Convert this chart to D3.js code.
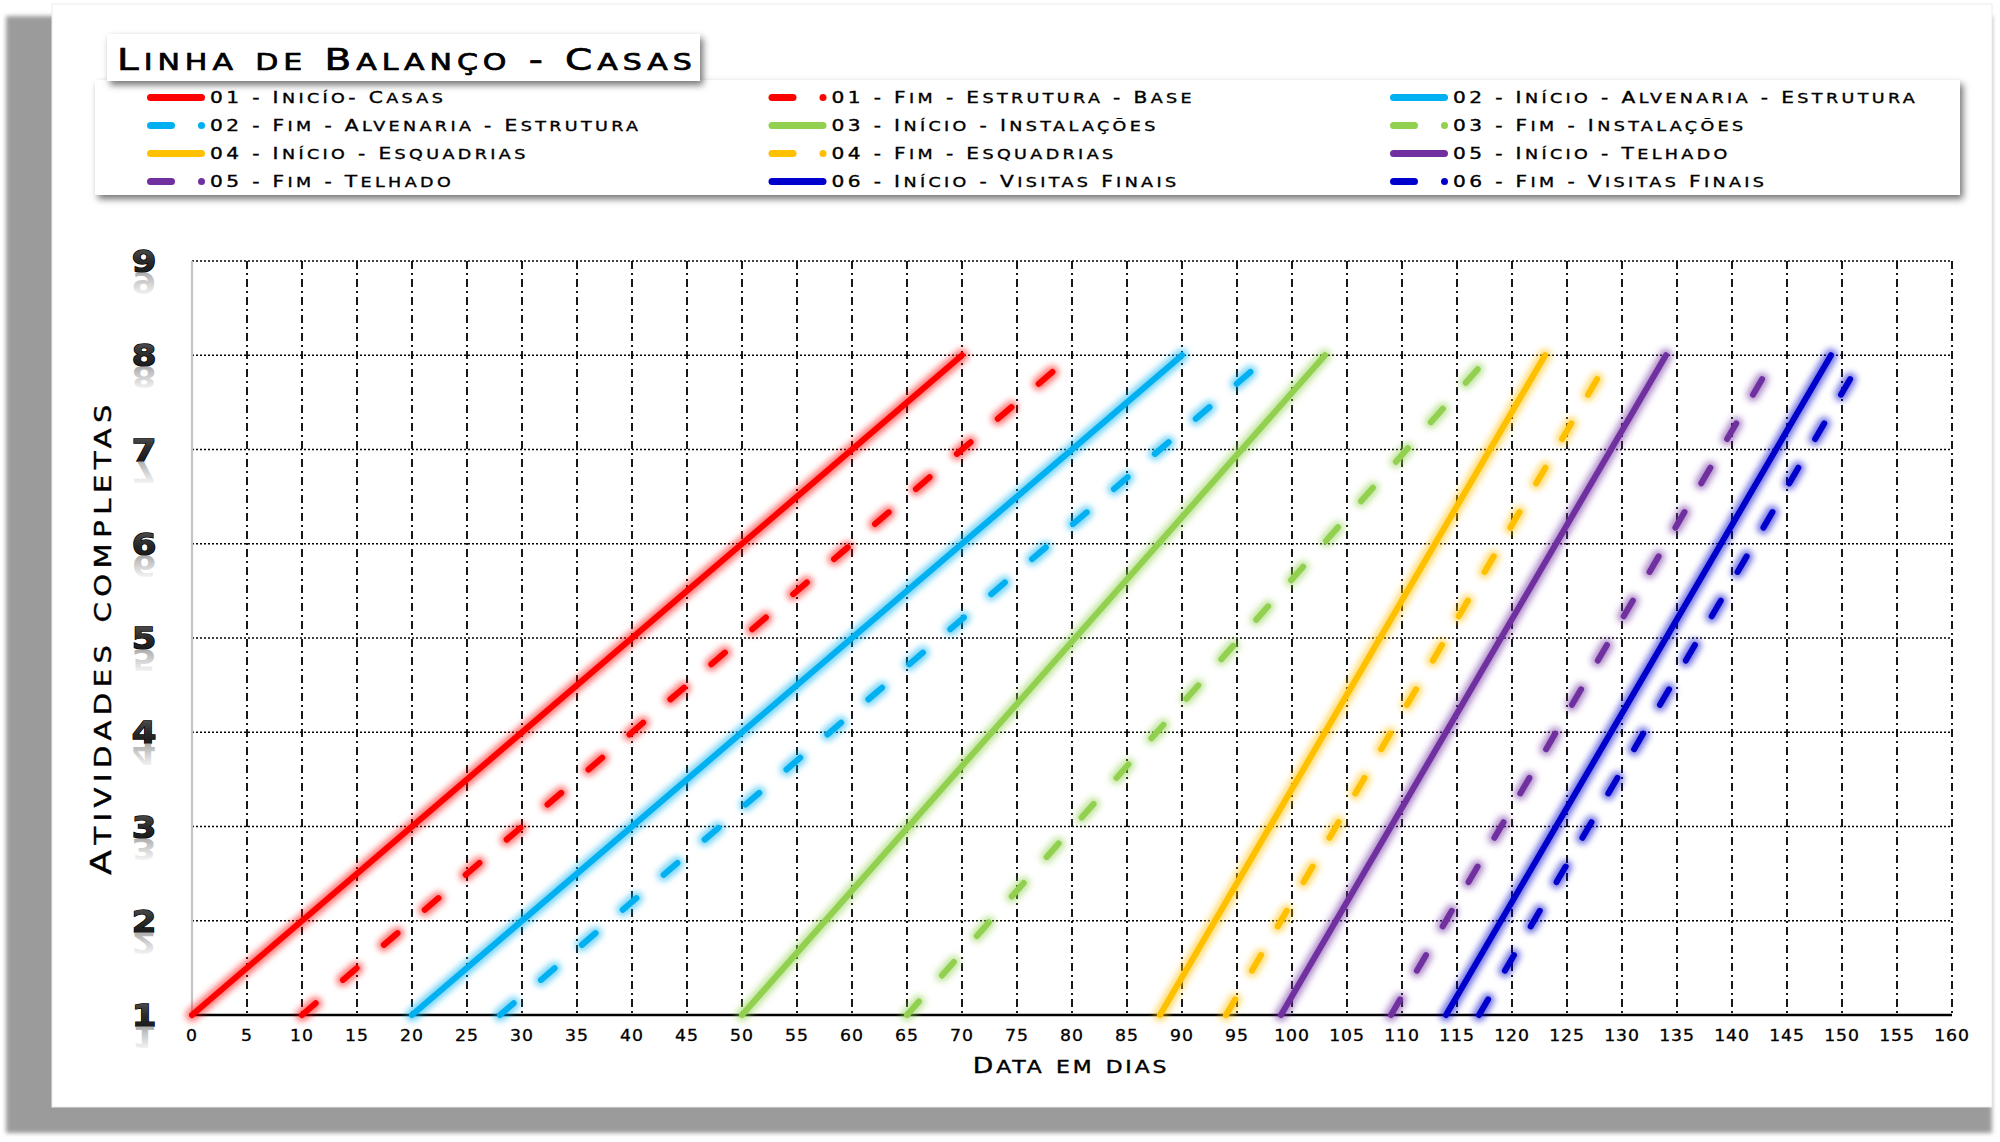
<!DOCTYPE html>
<html><head><meta charset="utf-8">
<script src="https://cdn.jsdelivr.net/npm/d3@7"></script>
<style>
  body{margin:0;background:#fff;}
  svg{display:block;}
  text{font-family:"DejaVu Sans",sans-serif;}
</style>
</head><body>
<svg id="chart" width="2000" height="1142" xmlns:xlink="http://www.w3.org/1999/xlink"></svg>
<script>
// ---------------- DATA ----------------
const chartTitle = "Linha de Balanço - Casas";
const xAxisTitle = "Data em dias";
const yAxisTitle = "Atividades completas";

const seriesLabels = [
  "01 - Inicío- Casas",
  "01 - Fim - Estrutura - Base",
  "02 - Início - Alvenaria - Estrutura",
  "02 - Fim - Alvenaria - Estrutura",
  "03 - Início - Instalações",
  "03 - Fim - Instalações",
  "04 - Início - Esquadrias",
  "04 - Fim - Esquadrias",
  "05 - Início - Telhado",
  "05 - Fim - Telhado",
  "06 - Início - Visitas Finais",
  "06 - Fim - Visitas Finais"
];
const startDay   = [0, 10, 20, 28, 50, 65, 88, 94, 99, 109, 114, 117];
const endDay     = [70, 80, 90, 98, 103, 118, 123, 129, 134, 144, 149, 152];
const startCount = [1, 1, 1, 1, 1, 1, 1, 1, 1, 1, 1, 1];
const endCount   = [8, 8, 8, 8, 8, 8, 8, 8, 8, 8, 8, 8];

const xTickLabels = [0,5,10,15,20,25,30,35,40,45,50,55,60,65,70,75,80,85,90,95,100,105,110,115,120,125,130,135,140,145,150,155,160];
const yTickLabels = [1,2,3,4,5,6,7,8,9];

// ---------------- STYLE ----------------
const palette = ["#FF0000","#FF0000","#00B0F0","#00B0F0","#92D050","#92D050",
                 "#FFC000","#FFC000","#7030A0","#7030A0","#0000CD","#0000CD"];
const dashedFlag = [false,true,false,true,false,true,false,true,false,true,false,true];
const DASH_LEN = 18;          // dash length (round caps add 3px each side)
const DASH_PX = 58, DASH_PY = 49.5; // pattern period measured along x / along y

const svg = d3.select("#chart");
const defs = svg.append("defs");

const plot = {left:192, right:1952, top:261, bottom:1015};
const x = d3.scaleLinear().domain([0,160]).range([plot.left, plot.right]);
const y = d3.scaleLinear().domain([1,9]).range([plot.bottom, plot.top]);

// filters
const blurF = defs.append("filter").attr("id","glow")
  .attr("filterUnits","userSpaceOnUse").attr("x",0).attr("y",0).attr("width",2000).attr("height",1142);
blurF.append("feGaussianBlur").attr("stdDeviation",3.2);

const shadowF = defs.append("filter").attr("id","dshadow")
  .attr("x","-5%").attr("y","-20%").attr("width","110%").attr("height","150%");
shadowF.append("feDropShadow").attr("dx",3).attr("dy",4).attr("stdDeviation",3.5)
  .attr("flood-color","#000").attr("flood-opacity",0.55);

const softF = defs.append("filter").attr("id","soft")
  .attr("x","-2%").attr("y","-2%").attr("width","104%").attr("height","104%");
softF.append("feGaussianBlur").attr("stdDeviation",2);

const digitGrad = defs.append("linearGradient").attr("id","digitGrad")
  .attr("x1",0).attr("y1",0).attr("x2",0).attr("y2",1);
digitGrad.append("stop").attr("offset",0).attr("stop-color","#5a5a5a");
digitGrad.append("stop").attr("offset",0.5).attr("stop-color","#2a2a2a");
digitGrad.append("stop").attr("offset",1).attr("stop-color","#111");

const reflGrad = defs.append("linearGradient").attr("id","reflGrad")
  .attr("x1",0).attr("y1",0).attr("x2",0).attr("y2",1);
reflGrad.append("stop").attr("offset",0.05).attr("stop-color","#999").attr("stop-opacity",0);
reflGrad.append("stop").attr("offset",1).attr("stop-color","#777").attr("stop-opacity",0.85);

// small caps helper: keeps original text, lowercase rendered as smaller capitals
function smallCaps(textSel, str, size, ratio){
  const runs = [];
  for (const ch of str){
    const low = ch !== ch.toUpperCase();
    if (runs.length && runs[runs.length-1].low === low) runs[runs.length-1].s += ch;
    else runs.push({low, s:ch});
  }
  runs.forEach(r => {
    textSel.append("tspan").text(r.s)
      .style("font-size", (r.low ? size*ratio : size) + "px")
      .style("text-transform", r.low ? "uppercase" : "none");
  });
  return textSel;
}

// ---------------- BACKGROUND PANEL ----------------
svg.append("rect").attr("x",6).attr("y",16).attr("width",1986).attr("height",1117)
  .attr("fill","#9b9b9b").attr("filter","url(#soft)");
svg.append("rect").attr("x",52).attr("y",4).attr("width",1940).attr("height",1103)
  .attr("fill","#fff").attr("stroke","#ececec").attr("stroke-width",1);

// ---------------- GRID ----------------
const grid = svg.append("g");
grid.selectAll("line.h").data(yTickLabels.filter(v => v > 1)).join("line")
  .attr("x1", plot.left).attr("x2", plot.right)
  .attr("y1", d => y(d)).attr("y2", d => y(d))
  .attr("stroke","#000").attr("stroke-width",1.6).attr("stroke-dasharray","2,2");
grid.selectAll("line.v").data(xTickLabels.filter(v => v > 0)).join("line")
  .attr("x1", d => x(d)).attr("x2", d => x(d))
  .attr("y1", plot.top).attr("y2", plot.bottom)
  .attr("stroke","#000").attr("stroke-width",1.8).attr("stroke-dasharray","8,4,2,4");

// axes lines
svg.append("line").attr("x1",x(0)).attr("x2",x(0)).attr("y1",y(9)).attr("y2",y(1))
  .attr("stroke","#c4c4c4").attr("stroke-width",2.2);
svg.append("line").attr("x1",x(0)-1).attr("x2",x(160)).attr("y1",y(1)).attr("y2",y(1))
  .attr("stroke","#000").attr("stroke-width",2.6);

// ---------------- SERIES ----------------
const seriesData = seriesLabels.map((name,i) => ({
  name, color: palette[i], dashed: dashedFlag[i],
  pts: [[startDay[i], startCount[i]], [endDay[i], endCount[i]]]
}));
const lineGen = d3.line().x(d => x(d[0])).y(d => y(d[1]));
function dashFor(s){
  if (!s.dashed) return null;
  const dx = Math.abs(x(s.pts[1][0]) - x(s.pts[0][0]));
  const dy = Math.abs(y(s.pts[1][1]) - y(s.pts[0][1]));
  const len = Math.hypot(dx, dy);
  const P = len / Math.hypot(dx / DASH_PX, dy / DASH_PY);
  return `${DASH_LEN},${(P - DASH_LEN).toFixed(2)}`;
}
const sg = svg.append("g");
seriesData.forEach(s => {
  const da = dashFor(s);
  sg.append("path").attr("d", lineGen(s.pts)).attr("fill","none")
    .attr("stroke", s.color).attr("stroke-width", 13).attr("stroke-opacity",0.55)
    .attr("stroke-linecap","round")
    .attr("stroke-dasharray", da)
    .attr("filter","url(#glow)");
  sg.append("path").attr("d", lineGen(s.pts)).attr("fill","none")
    .attr("stroke", s.color).attr("stroke-width", 6)
    .attr("stroke-linecap","round")
    .attr("stroke-dasharray", da);
});

// ---------------- AXIS LABELS ----------------
const xl = svg.append("g");
xTickLabels.forEach(v => {
  xl.append("text").text(v)
    .attr("transform", `translate(${x(v)},1041) scale(1.15,1)`)
    .attr("text-anchor","middle").style("font-size","15px").style("letter-spacing","0.8px")
    .attr("fill","#000").attr("stroke","#000").attr("stroke-width",0.3);
});

// y tick labels: glossy digits + mirrored reflection (reflection re-uses the same text node)
const ylMain = svg.append("g")
  .attr("fill","url(#digitGrad)").attr("stroke","#000").attr("stroke-width",1.3)
  .style("paint-order","stroke");
const ylRefl = svg.append("g");
yTickLabels.forEach(v => {
  const cy = y(v) + 11;
  ylMain.append("text").attr("id","ylab" + v).text(v)
    .attr("transform", `translate(144,${cy}) scale(1.18,1.02)`)
    .attr("text-anchor","middle").style("font-size","30px").style("font-weight","bold");
  ylRefl.append("use").attr("href","#ylab" + v).attr("xlink:href","#ylab" + v)
    .attr("transform", `translate(0,${2*cy}) scale(1,-1)`)
    .attr("fill","url(#reflGrad)").attr("stroke","none");
});

// x title
smallCaps(svg.append("text")
  .attr("transform","translate(1071,1073) scale(1.3,1)")
  .attr("text-anchor","middle").style("letter-spacing","2.2px")
  .attr("fill","#000").attr("stroke","#000").attr("stroke-width",0.4),
  xAxisTitle, 20.5, 0.82);

// y title
smallCaps(svg.append("text")
  .attr("transform","translate(111,637) rotate(-90) scale(1.3,1)")
  .attr("text-anchor","middle").style("letter-spacing","4.2px")
  .attr("fill","#000").attr("stroke","#000").attr("stroke-width",0.4),
  yAxisTitle, 28, 0.8);

// ---------------- LEGEND ----------------
svg.append("rect").attr("x",95).attr("y",80).attr("width",1865).attr("height",115)
  .attr("fill","#fff").attr("filter","url(#dshadow)");
const lg = svg.append("g");
seriesData.forEach((s,i) => {
  const col = i % 3, row = Math.floor(i / 3);
  const x0 = 147 + col * 621.5;
  const cy = 97.5 + row * 28;
  if (!s.dashed){
    lg.append("line").attr("x1",x0+3.5).attr("x2",x0+54.5).attr("y1",cy).attr("y2",cy)
      .attr("stroke",s.color).attr("stroke-width",7).attr("stroke-linecap","round");
  } else {
    lg.append("line").attr("x1",x0+3.5).attr("x2",x0+24.5).attr("y1",cy).attr("y2",cy)
      .attr("stroke",s.color).attr("stroke-width",7).attr("stroke-linecap","round");
    lg.append("circle").attr("cx",x0+54.5).attr("cy",cy).attr("r",3.5).attr("fill",s.color);
  }
  smallCaps(lg.append("text")
    .attr("transform",`translate(${x0+63},${cy+5.8}) scale(1.3,1)`)
    .style("letter-spacing","2.6px")
    .attr("fill","#000").attr("stroke","#000").attr("stroke-width",0.35),
    s.name, 15.5, 0.87);
});

// ---------------- TITLE ----------------
svg.append("rect").attr("x",107).attr("y",34).attr("width",593).attr("height",47)
  .attr("fill","#fff").attr("filter","url(#dshadow)");
smallCaps(svg.append("text")
  .attr("transform","translate(117,70) scale(1.3,1)")
  .style("letter-spacing","3.8px")
  .attr("fill","#000").attr("stroke","#000").attr("stroke-width",0.7),
  chartTitle, 30, 0.77);
</script>
</body></html>
